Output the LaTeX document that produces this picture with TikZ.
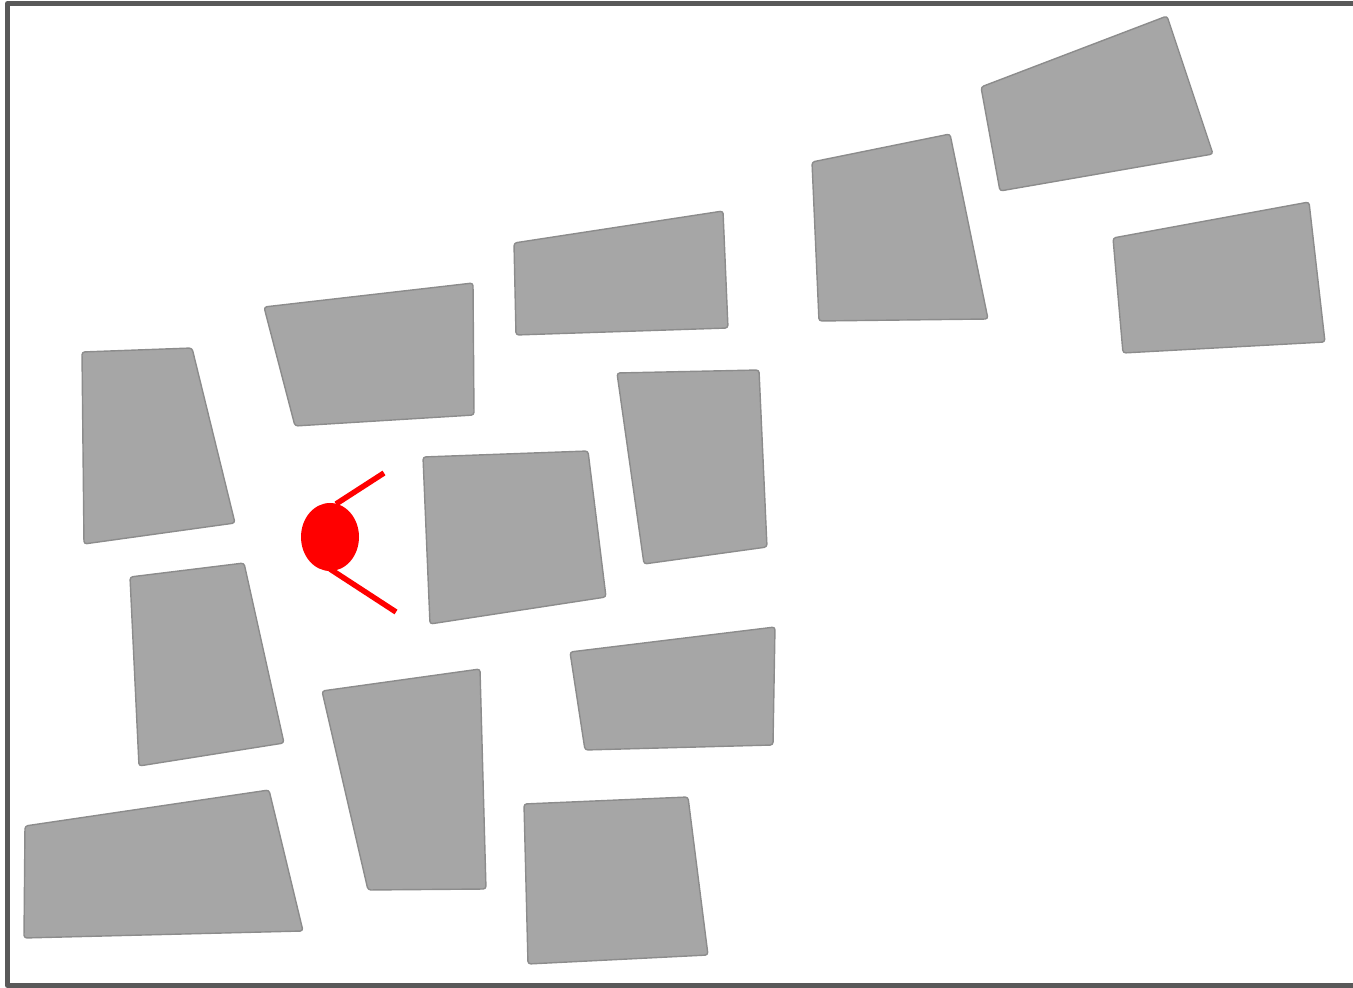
\documentclass[tikz,border=0pt]{standalone}
\begin{document}
\begin{tikzpicture}[x=0.01cm,y=-0.01cm,line cap=round,line join=round,
  block/.style={fill=black!35,draw=black!45,line width=0.4pt,rounded corners=0.8pt},
  ray/.style={red,line width=0.055cm,line cap=butt}]
\useasboundingbox (0,0) rectangle (1353,988);
\clip (0,0) rectangle (1353,988);
\draw[black!65,line width=0.05cm] (7.5,3.5) rectangle (1380,985.5);
% buildings
\foreach \pts in {%
  {(82,352)--(192,348)--(235,523)--(84,544)},
  {(264,307)--(473,283)--(474,415)--(295,426)},
  {(514,243)--(723,211)--(728,328)--(516,335)},
  {(812,162)--(950,134)--(988,319)--(819,321)},
  {(981,87)--(1167,16)--(1213,154)--(1000,191)},
  {(1113,238)--(1309,202)--(1325,342)--(1123,353)},
  {(617,373)--(759,370)--(767,547)--(644,564)},
  {(423,457)--(588,451)--(606,597)--(430,624)},
  {(130,577)--(244,563)--(284,743)--(139,766)},
  {(322,691)--(480,669)--(486,889)--(368,890)},
  {(570,652)--(775,627)--(773,745)--(585,750)},
  {(25,826)--(269,790)--(303,931)--(24,938)},
  {(524,804)--(688,797)--(708,955)--(528,964)}}
  \path[block] \pts -- cycle;
% viewer
\coordinate (eye) at (330,537);
\coordinate (ray1) at (384,473);
\coordinate (ray2) at (396,612);
\draw[ray] (336,504) -- (ray1);
\draw[ray] (330,569) -- (ray2);
\fill[red] (eye) ellipse [x radius=29,y radius=34];
\end{tikzpicture}
\end{document}
